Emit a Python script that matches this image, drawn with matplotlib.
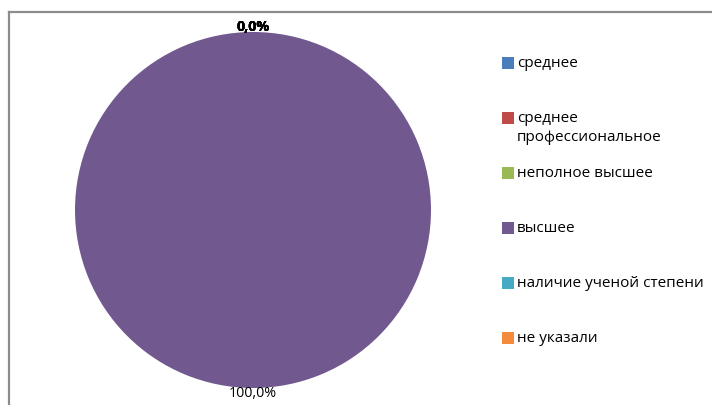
import matplotlib.pyplot as plt
from matplotlib.patches import Rectangle
from matplotlib.lines import Line2D

# Данные
categories = ['среднее', 'среднее\nпрофессиональное', 'неполное высшее',
              'высшее', 'наличие ученой степени', 'не указали']
values = [0, 0, 0, 100, 0, 0]
colors = ['#4A7EBB', '#BE4B48', '#98B954', '#71588F', '#46AAC5', '#F38A3C']

W, H = 712, 405
fig = plt.figure(figsize=(W / 100, H / 100), dpi=100)
plt.rcParams['font.family'] = ['Open Sans', 'DejaVu Sans']

# рамка области диаграммы (видны только левая и верхняя стороны)
fig.add_artist(Line2D([9 / W, 9 / W], [0, 1 - 12 / H], color='#8c8c8c', lw=1.6))
fig.add_artist(Line2D([9 / W, 1], [1 - 12 / H, 1 - 12 / H], color='#8c8c8c', lw=1.6))

# круговая диаграмма
cx, cy, r = 253, 210, 178
ax = fig.add_axes([(cx - r) / W, (H - cy - r) / H, 2 * r / W, 2 * r / H])
wedges, texts, autotexts = ax.pie(
    values, colors=colors, startangle=90, counterclock=False,
    autopct=lambda p: f'{p:.1f}%'.replace('.', ','), pctdistance=1.03,
    wedgeprops=dict(linewidth=0))
for t, v in zip(autotexts, values):
    t.set_fontsize(10.3)
    t.set_color('black')
    if v == 0:
        t.set_fontweight('bold')
ax.set_xlim(-1, 1)
ax.set_ylim(-1, 1)
ax.set_aspect('equal')
ax.axis('off')

# легенда
for i, (lab, col) in enumerate(zip(categories, colors)):
    yc = 63 + 55 * i
    fig.add_artist(Rectangle((502 / W, 1 - (yc + 6) / H), 12 / W, 12 / H,
                             facecolor=col, edgecolor='none',
                             transform=fig.transFigure))
    fig.text(517 / W, 1 - (yc - 7) / H, lab, fontsize=11, va='top', ha='left',
             linespacing=1.35)

fig.savefig('out.png', dpi=100)
